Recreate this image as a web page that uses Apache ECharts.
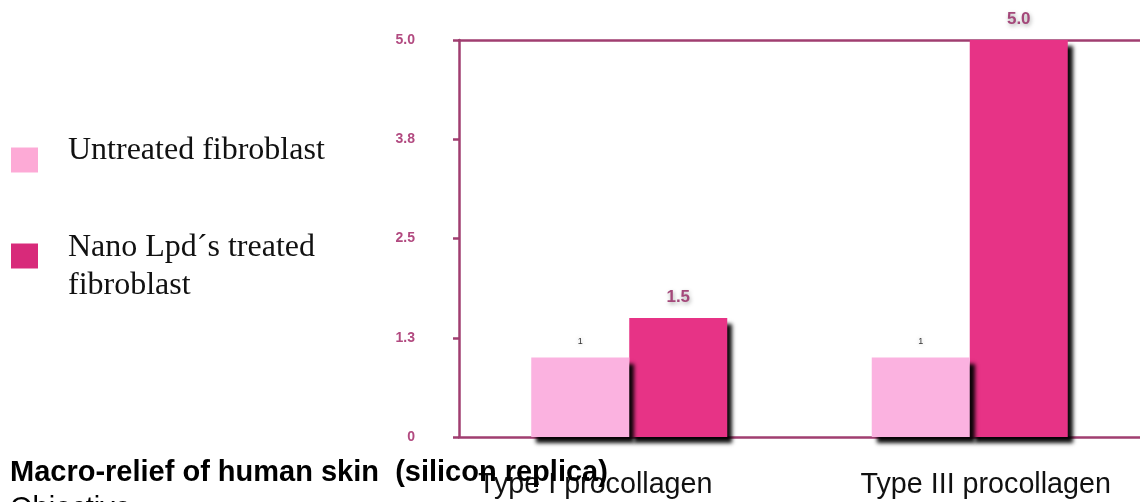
<!DOCTYPE html>
<html>
<head>
<meta charset="utf-8">
<script src="https://cdn.jsdelivr.net/npm/echarts@6/dist/echarts.min.js"></script>
<style>
  html, body { margin: 0; padding: 0; background: #ffffff; }
  #chart { width: 1140px; height: 502px; }
</style>
</head>
<body>
<div id="chart"></div>
<script>
// Procollagen expression, untreated vs Nano Lpd´s treated fibroblasts
const categories = ['Type I procollagen', 'Type III procollagen'];
const seriesNames = ['Untreated fibroblast', 'Nano Lpd´s treated fibroblast'];
const untreatedValues = [1, 1];
const treatedValues = [1.5, 5.0];
const yTicks = { min: 0, max: 5, interval: 1.25 };
const titleText = 'Macro-relief of human skin  (silicon replica)';
const subtitleText = 'Objective';

const axisColor = '#A03E70';
const tickLabelColor = '#B24A80';
const sansFont = '"Liberation Sans", Arial, sans-serif';
const serifFont = '"Liberation Serif", "Times New Roman", serif';

const chart = echarts.init(document.getElementById('chart'), null, { renderer: 'canvas' });

const barShadow = {
  shadowColor: 'rgba(0,0,0,0.95)',
  shadowBlur: 4,
  shadowOffsetX: 5,
  shadowOffsetY: 6
};

chart.setOption({
  animation: false,
  backgroundColor: '#ffffff',
  title: {
    text: titleText,
    subtext: subtitleText,
    left: 10,
    top: 458,
    padding: 0,
    itemGap: 7,
    textStyle: { fontFamily: sansFont, fontWeight: 'bold', fontSize: 29, color: '#000000' },
    subtextStyle: { fontFamily: sansFont, fontSize: 29, color: '#000000' }
  },
  legend: {
    orient: 'vertical',
    left: 11,
    top: 135,
    padding: 0,
    itemGap: 38,
    itemWidth: 27,
    itemHeight: 25,
    icon: 'rect',
    selectedMode: false,
    textStyle: {
      fontFamily: serifFont,
      fontSize: 32,
      color: '#111111',
      padding: [0, 0, 0, 25],
      rich: {
        t: { fontFamily: serifFont, fontSize: 32, lineHeight: 38, color: '#111111' },
        gapA: { fontSize: 1, lineHeight: 18 },
        gapB: { fontSize: 1, lineHeight: 22 }
      }
    },
    data: [
      { name: seriesNames[0], itemStyle: { color: '#FDAAD6' } },
      { name: seriesNames[1], itemStyle: { color: '#D82A7A' } }
    ],
    formatter: function (name) {
      if (name === seriesNames[1]) {
        return '{gapB| }\n{t|Nano Lpd´s treated}\n{t|fibroblast}';
      }
      return '{t|' + name + '}\n{gapA| }';
    }
  },
  grid: { left: 459, right: -3, top: 40, bottom: 65, containLabel: false },
  xAxis: [
    {
      type: 'category',
      data: categories,
      axisLine: { show: true, lineStyle: { color: axisColor, width: 2.5 } },
      axisTick: { show: false },
      axisLabel: {
        interval: 0,
        hideOverlap: false,
        margin: 34,
        fontFamily: sansFont,
        fontSize: 28.7,
        color: '#111111',
        formatter: function (value, idx) {
          return idx === 0 ? '{l|' + value + '}' : '{r|' + value + '}';
        },
        rich: {
          l: { fontFamily: sansFont, fontSize: 28.7, color: '#111111', padding: [0, 68, 0, 0] },
          r: { fontFamily: sansFont, fontSize: 28.7, color: '#111111', padding: [0, 0, 0, 32] }
        }
      },
      splitLine: { show: false }
    },
    {
      type: 'category',
      data: categories,
      position: 'top',
      axisLine: { show: true, lineStyle: { color: axisColor, width: 2.5 } },
      axisTick: { show: false },
      axisLabel: { show: false },
      splitLine: { show: false }
    }
  ],
  yAxis: {
    type: 'value',
    min: yTicks.min,
    max: yTicks.max,
    interval: yTicks.interval,
    axisLine: { show: true, lineStyle: { color: axisColor, width: 2.5 } },
    axisTick: { show: true, length: 6, lineStyle: { color: axisColor, width: 2.5 } },
    splitLine: { show: false },
    axisLabel: {
      margin: 44,
      fontFamily: sansFont,
      fontWeight: 'bold',
      fontSize: 14,
      color: tickLabelColor,
      formatter: function (v) { return v === 0 ? '0' : v.toFixed(1); }
    }
  },
  series: [
    {
      name: seriesNames[0],
      type: 'bar',
      data: untreatedValues,
      z: 3,
      barWidth: 98,
      barGap: '0%',
      itemStyle: Object.assign({ color: '#FBB2E0' }, barShadow),
      label: {
        show: true,
        position: 'top',
        distance: 12,
        fontFamily: sansFont,
        fontSize: 9,
        color: '#333333',
        textShadowColor: 'rgba(0,0,0,0.25)',
        textShadowBlur: 4,
        formatter: function (p) { return String(p.value); }
      }
    },
    {
      name: seriesNames[1],
      type: 'bar',
      data: treatedValues,
      z: 2,
      barWidth: 98,
      barGap: '0%',
      itemStyle: Object.assign({ color: '#E73386' }, barShadow),
      label: {
        show: true,
        position: 'top',
        distance: 12,
        fontFamily: sansFont,
        fontWeight: 'bold',
        fontSize: 17,
        color: '#A4487A',
        textShadowColor: 'rgba(0,0,0,0.35)',
        textShadowBlur: 4,
        textShadowOffsetX: 1,
        textShadowOffsetY: 2,
        formatter: function (p) { return p.value.toFixed(1); }
      }
    }
  ]
});
</script>
</body>
</html>
